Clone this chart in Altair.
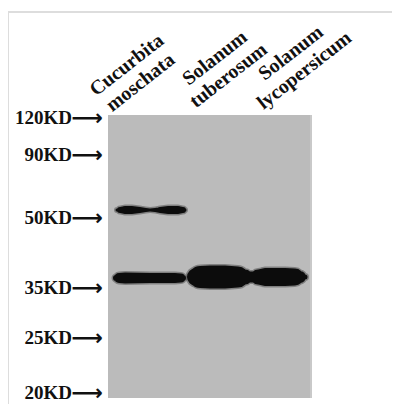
import altair as alt
import pandas as pd

# Lanes (sample names) and their centre on the gel (gel units, 0 = left edge)
lanes = ["Cucurbita\nmoschata", "Solanum\ntuberosum", "Solanum\nlycopersicum"]
lane_center = [42, 112, 168]

# Molecular-weight markers and their migration distance from the top of the gel
marker_labels = ["120KD", "90KD", "50KD", "35KD", "25KD", "20KD"]
marker_pos = [3, 40, 103, 173, 223, 278]

# Bands: profile along the lane (gel x), migration distance and band thickness
bandA_x = [9, 12, 17, 24, 32, 38, 42, 47, 52, 60, 70, 75, 77]
bandA_w = [3, 6, 8, 8, 6, 4, 3, 4, 6, 8, 8, 6, 3]
bandA_y = 95

bandB_x = [8, 11, 17, 42, 67, 73, 75]
bandB_w = [6, 10, 11, 10, 10, 9, 6]
bandB_y = 163

bandC_x = [85, 88, 92, 102, 117, 130, 137, 142, 146, 150, 157, 177, 187, 192, 197]
bandC_w = [8, 18, 22, 23, 23, 21, 15, 11, 11, 15, 18, 18, 17, 12, 5]
bandC_y = 162

rows = []
for name, xs_, ws, yv in [("A", bandA_x, bandA_w, bandA_y),
                          ("B", bandB_x, bandB_w, bandB_y),
                          ("C", bandC_x, bandC_w, bandC_y)]:
    for i, (xv, wv) in enumerate(zip(xs_, ws)):
        rows.append({"band": name, "x": xv, "y": yv, "w": wv, "w_halo": wv + 3, "o": i})
bands = pd.DataFrame(rows)

markers = pd.DataFrame({"label": marker_labels, "pos": marker_pos})

# label anchor = lane centre shifted (slanted labels lean to the right)
label_shift_x = [-17, 1, 21]
label_shift_y = [-42, -49, -54]
lane_df = pd.DataFrame({
    "lane": lanes,
    "lx": [c + s for c, s in zip(lane_center, label_shift_x)],
    "ly": label_shift_y,
})

W, H = 204, 283
xs = alt.Scale(domain=[0, W], nice=False, zero=False)
ys = alt.Scale(domain=[0, H], nice=False, zero=False, reverse=True)
SERIF = "Liberation Serif"

halo = alt.Chart(bands).mark_trail(color="#3a3a3a", opacity=0.45).encode(
    x=alt.X("x:Q", scale=xs, axis=None),
    y=alt.Y("y:Q", scale=ys, axis=None),
    size=alt.Size("w_halo:Q", scale=None, legend=None),
    detail="band:N",
    order="o:Q",
)
core = alt.Chart(bands).mark_trail(color="#0c0c0c").encode(
    x=alt.X("x:Q", scale=xs, axis=None),
    y=alt.Y("y:Q", scale=ys, axis=None),
    size=alt.Size("w:Q", scale=None, legend=None),
    detail="band:N",
    order="o:Q",
)

mk_text = alt.Chart(markers).mark_text(
    align="right", baseline="middle", font=SERIF, fontSize=19, fontWeight="bold",
    color="#111111", dx=-36
).encode(x=alt.value(0), y=alt.Y("pos:Q", scale=ys, axis=None), text="label:N")

mk_arrow = alt.Chart(markers).mark_text(
    align="right", baseline="middle", font="DejaVu Sans", fontSize=22, fontWeight="bold",
    color="#111111", dx=-5
).encode(x=alt.value(0), y=alt.Y("pos:Q", scale=ys, axis=None), text=alt.value("⟶"))

lane_text = alt.Chart(lane_df).mark_text(
    align="center", baseline="bottom", angle=322, font=SERIF, fontSize=20,
    fontWeight="bold", color="#111111", lineBreak="\n", lineHeight=22
).encode(
    x=alt.X("lx:Q", scale=xs, axis=None),
    y=alt.Y("ly:Q", scale=ys, axis=None),
    text="lane:N",
)

one = pd.DataFrame({"k": [0]})
frame_top = alt.Chart(one).mark_rule(color="#dddddd", strokeWidth=2).encode(
    x=alt.value(-100), x2=alt.value(300), y=alt.value(-103))
frame_left = alt.Chart(one).mark_rule(color="#dddddd", strokeWidth=2).encode(
    x=alt.value(-100), y=alt.value(-103), y2=alt.value(300))
edge = alt.Chart(one).mark_rule(color="#c9c9c9", strokeWidth=2).encode(
    x=alt.value(W - 1), y=alt.value(0), y2=alt.value(H))

chart = alt.layer(
    frame_top, frame_left, edge, halo, core, mk_text, mk_arrow, lane_text
).properties(
    width=W, height=H,
    padding={"left": 100, "top": 107, "right": 80, "bottom": 6},
    autosize=alt.AutoSizeParams(type="none"),
).configure_view(fill="#bbbbbb", strokeWidth=0)

chart.save("out.html", embed_options={"renderer": "svg", "actions": False})
